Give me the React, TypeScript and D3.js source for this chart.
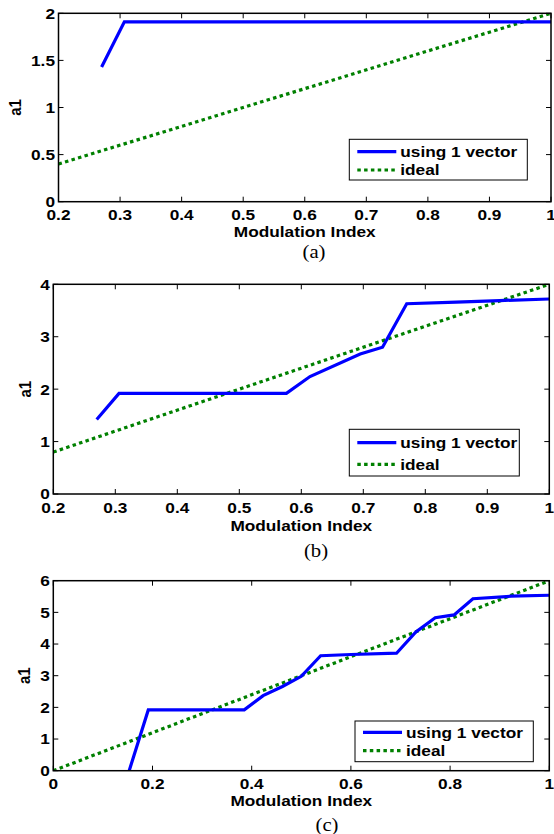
import React from 'react';
import * as d3 from 'd3';

// ---------- data ----------
const seriesName = 'using 1 vector';
const idealName = 'ideal';
const xAxisLabel = 'Modulation Index';
const yAxisLabel = 'a1';

// panel (a)
const aX = [0.27, 0.307, 1.0];
const aY = [1.43, 1.91, 1.91];
const aIdealX = [0.2, 1.0];
const aIdealY = [0.4, 2.0];
const aXTicks = [0.2, 0.3, 0.4, 0.5, 0.6, 0.7, 0.8, 0.9, 1.0];
const aXTickLabels = ['0.2', '0.3', '0.4', '0.5', '0.6', '0.7', '0.8', '0.9', '1'];
const aYTicks = [0, 0.5, 1, 1.5, 2];
const aYTickLabels = ['0', '0.5', '1', '1.5', '2'];

// panel (b)
const bX = [0.27, 0.306, 0.576, 0.614, 0.695, 0.731, 0.77, 0.85, 0.92, 1.0];
const bY = [1.42, 1.92, 1.92, 2.24, 2.67, 2.8, 3.63, 3.66, 3.69, 3.72];
const bIdealX = [0.2, 1.0];
const bIdealY = [0.8, 4.0];
const bXTicks = [0.2, 0.3, 0.4, 0.5, 0.6, 0.7, 0.8, 0.9, 1.0];
const bXTickLabels = ['0.2', '0.3', '0.4', '0.5', '0.6', '0.7', '0.8', '0.9', '1'];
const bYTicks = [0, 1, 2, 3, 4];
const bYTickLabels = ['0', '1', '2', '3', '4'];

// panel (c)
const cX = [0.153, 0.1915, 0.385, 0.423, 0.462, 0.5, 0.539, 0.6, 0.692, 0.731, 0.77, 0.808, 0.846, 0.923, 1.0];
const cY = [0, 1.92, 1.92, 2.37, 2.66, 2.98, 3.63, 3.67, 3.71, 4.38, 4.83, 4.92, 5.43, 5.51, 5.54];
const cIdealX = [0, 1.0];
const cIdealY = [0, 6.0];
const cXTicks = [0, 0.2, 0.4, 0.6, 0.8, 1.0];
const cXTickLabels = ['0', '0.2', '0.4', '0.6', '0.8', '1'];
const cYTicks = [0, 1, 2, 3, 4, 5, 6];
const cYTickLabels = ['0', '1', '2', '3', '4', '5', '6'];

const captions = ['(a)', '(b)', '(c)'];

// ---------- layout ----------
const SX = 1.15;
const FONT = '"Liberation Sans", Arial, sans-serif';
const SERIF = '"Liberation Serif", "Times New Roman", serif';

const panels = [
  {
    id: 'a', xs: aX, ys: aY, ix: aIdealX, iy: aIdealY,
    xDomain: [0.2, 1], yDomain: [0, 2],
    xTicks: aXTicks, xTickLabels: aXTickLabels, yTicks: aYTicks, yTickLabels: aYTickLabels,
    left: 58.5, right: 551, top: 13.3, bottom: 201.7,
    legend: { x: 349.3, y: 139.3, w: 178, h: 40.7, r1: 151.7, r2: 170 },
    caption: { x: 314, y: 252 }, yLabelX: 15, xLabelOff: 30,
  },
  {
    id: 'b', xs: bX, ys: bY, ix: bIdealX, iy: bIdealY,
    xDomain: [0.2, 1], yDomain: [0, 4],
    xTicks: bXTicks, xTickLabels: bXTickLabels, yTicks: bYTicks, yTickLabels: bYTickLabels,
    left: 53.3, right: 549.3, top: 284.3, bottom: 494,
    legend: { x: 349.3, y: 429.3, w: 170, h: 46.7, r1: 442.7, r2: 464.3 },
    caption: { x: 316, y: 551 }, yLabelX: 25, xLabelOff: 32,
  },
  {
    id: 'c', xs: cX, ys: cY, ix: cIdealX, iy: cIdealY,
    xDomain: [0, 1], yDomain: [0, 6],
    xTicks: cXTicks, xTickLabels: cXTickLabels, yTicks: cYTicks, yTickLabels: cYTickLabels,
    left: 53.3, right: 549.3, top: 580.7, bottom: 770.7,
    legend: { x: 355, y: 721, w: 178.3, h: 40.7, r1: 732.3, r2: 750.7 },
    caption: { x: 327, y: 825 }, yLabelX: 24, xLabelOff: 30,
  },
];

function Txt({ x, y, children, anchor = 'middle', size = 15, family = FONT, weight = 'bold', rotate = false }: any) {
  const tr = rotate
    ? `translate(${x},${y}) rotate(-90) scale(1,${SX})`
    : `translate(${x},${y}) scale(${SX},1)`;
  return (
    <text transform={tr} textAnchor={anchor} fontFamily={family} fontWeight={weight} fontSize={size} fill="#000">
      {children}
    </text>
  );
}

function Panel({ p, idx }: any) {
  const x = d3.scaleLinear().domain(p.xDomain).range([p.left, p.right]);
  const y = d3.scaleLinear().domain(p.yDomain).range([p.bottom, p.top]);
  const line = d3.line<[number, number]>().x((d) => x(d[0])).y((d) => y(d[1]));
  const blue = p.xs.map((v: number, i: number) => [v, p.ys[i]] as [number, number]);
  const ideal = p.ix.map((v: number, i: number) => [v, p.iy[i]] as [number, number]);
  const clipId = `clip-${p.id}`;
  const TL = 5;
  const L = p.legend;
  return (
    <g>
      <defs>
        <clipPath id={clipId}>
          <rect x={p.left} y={p.top} width={p.right - p.left} height={p.bottom - p.top} />
        </clipPath>
      </defs>
      <rect x={p.left} y={p.top} width={p.right - p.left} height={p.bottom - p.top} fill="#fff" />
      <g clipPath={`url(#${clipId})`}>
        <path d={line(ideal) || ''} fill="none" stroke="#008000" strokeWidth={3.2} strokeDasharray="3.5,3.3" />
        <path d={line(blue) || ''} fill="none" stroke="#0000ff" strokeWidth={3.2} strokeLinejoin="miter" />
      </g>
      {/* ticks */}
      {p.xTicks.map((t: number, i: number) => (
        <g key={`xt${i}`}>
          <line x1={x(t)} x2={x(t)} y1={p.bottom} y2={p.bottom - TL} stroke="#000" strokeWidth={1} />
          <line x1={x(t)} x2={x(t)} y1={p.top} y2={p.top + TL} stroke="#000" strokeWidth={1} />
          <Txt x={x(t)} y={p.bottom + 18.5}>{p.xTickLabels[i]}</Txt>
        </g>
      ))}
      {p.yTicks.map((t: number, i: number) => (
        <g key={`yt${i}`}>
          <line x1={p.left} x2={p.left + TL} y1={y(t)} y2={y(t)} stroke="#000" strokeWidth={1} />
          <line x1={p.right} x2={p.right - TL} y1={y(t)} y2={y(t)} stroke="#000" strokeWidth={1} />
          <Txt x={p.left - 3.5} y={y(t) + 5.4} anchor="end">{p.yTickLabels[i]}</Txt>
        </g>
      ))}
      {/* frame */}
      <rect x={p.left} y={p.top} width={p.right - p.left} height={p.bottom - p.top} fill="none" stroke="#000" strokeWidth={1.5} />
      {/* labels */}
      <Txt x={(p.left + p.right) / 2} y={p.bottom + p.xLabelOff + 5.4}>{xAxisLabel}</Txt>
      <Txt x={p.yLabelX + 6} y={(p.top + p.bottom) / 2} rotate>{yAxisLabel}</Txt>
      <Txt x={p.caption.x} y={p.caption.y + 6} size={18} family={SERIF} weight="normal">{captions[idx]}</Txt>
      {/* legend */}
      <rect x={L.x} y={L.y} width={L.w} height={L.h} fill="#fff" stroke="#000" strokeWidth={1} />
      <line x1={L.x + 8} x2={L.x + 47} y1={L.r1} y2={L.r1} stroke="#0000ff" strokeWidth={3.2} />
      <line x1={L.x + 8} x2={L.x + 47} y1={L.r2} y2={L.r2} stroke="#008000" strokeWidth={3.2} strokeDasharray="3.5,3.3" />
      <Txt x={L.x + 51} y={L.r1 + 5.4} anchor="start">{seriesName}</Txt>
      <Txt x={L.x + 51} y={L.r2 + 5.4} anchor="start">{idealName}</Txt>
    </g>
  );
}

export default function App() {
  return (
    <svg width={554} height={834} style={{ position: 'absolute', left: 0, top: 0, background: '#fff' }}>
      <rect x={0} y={0} width={554} height={834} fill="#fff" />
      {panels.map((p, i) => (
        <Panel key={p.id} p={p} idx={i} />
      ))}
    </svg>
  );
}
